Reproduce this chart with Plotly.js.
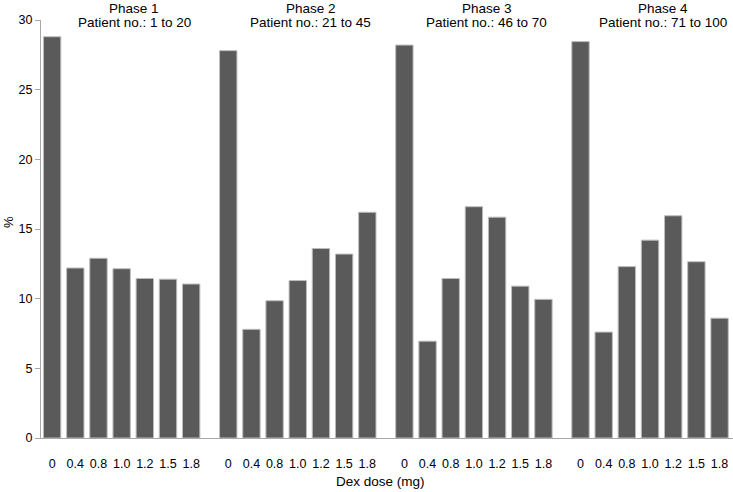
<!DOCTYPE html>
<html>
<head>
<meta charset="utf-8">
<script src="https://cdn.plot.ly/plotly-3.0.1.min.js"></script>
<style>html,body{margin:0;padding:0;background:#fff;}#chart{width:733px;height:492px;}</style>
</head>
<body>
<div id="chart"></div>
<script>
// Data
const doses = ["0", "0.4", "0.8", "1.0", "1.2", "1.5", "1.8"];
const phaseNames = ["Phase 1", "Phase 2", "Phase 3", "Phase 4"];
const patientRanges = ["Patient no.: 1 to 20", "Patient no.: 21 to 45", "Patient no.: 46 to 70", "Patient no.: 71 to 100"];
const phase1 = [28.8, 12.2, 12.9, 12.15, 11.45, 11.4, 11.05];
const phase2 = [27.8, 7.8, 9.85, 11.3, 13.6, 13.2, 16.2];
const phase3 = [28.2, 6.95, 11.45, 16.6, 15.85, 10.9, 9.95];
const phase4 = [28.45, 7.6, 12.3, 14.2, 15.95, 12.65, 8.6];
const phases = [phase1, phase2, phase3, phase4];

// Layout helpers (positions)
const PHASE_STEP = 7.6;
const xs = [], ys = [], tickvals = [], ticktext = [];
phases.forEach((vals, p) => {
  vals.forEach((v, i) => {
    const x = p * PHASE_STEP + i;
    xs.push(x); ys.push(v);
    tickvals.push(x); ticktext.push(doses[i]);
  });
});

const FONT = "Liberation Sans, Arial, sans-serif";
const plotTop = 20, plotBottom = 438;
const pyPaper = (pix) => (plotBottom - pix) / (plotBottom - plotTop);

const annotations = [];
phases.forEach((vals, p) => {
  const cx = p * PHASE_STEP + 3.55;
  annotations.push({x: cx, xref: 'x', y: pyPaper(8), yref: 'paper', text: phaseNames[p],
    showarrow: false, xanchor: 'center', yanchor: 'middle', font: {family: FONT, size: 13.5, color: '#000'}});
  annotations.push({x: cx, xref: 'x', y: pyPaper(22), yref: 'paper', text: patientRanges[p],
    showarrow: false, xanchor: 'center', yanchor: 'middle', font: {family: FONT, size: 13.5, color: '#000'}});
});
annotations.push({x: 0.49, xref: 'paper', y: pyPaper(481), yref: 'paper', text: 'Dex dose (mg)',
  showarrow: false, xanchor: 'center', yanchor: 'middle', font: {family: FONT, size: 13.5, color: '#000'}});
annotations.push({x: -33/692, xref: 'paper', y: pyPaper(222), yref: 'paper', text: '%', textangle: -90,
  showarrow: false, xanchor: 'center', yanchor: 'middle', font: {family: FONT, size: 13, color: '#000'}});

const trace = {
  type: 'bar', x: xs, y: ys, width: 0.75,
  marker: {color: '#5a5a5a', line: {color: '#bdbdbd', width: 1}},
  hoverinfo: 'skip'
};

const layout = {
  width: 733, height: 492,
  margin: {l: 41, r: 0, t: plotTop, b: 492 - plotBottom, pad: 0},
  paper_bgcolor: '#fff', plot_bgcolor: '#fff',
  showlegend: false,
  font: {family: FONT, size: 12, color: '#000'},
  xaxis: {
    range: [-0.48, 3 * PHASE_STEP + 6 + 0.58],
    tickmode: 'array', tickvals: tickvals, ticktext: ticktext,
    ticks: 'outside', ticklen: 14, tickcolor: 'rgba(0,0,0,0)',
    showgrid: false, zeroline: false,
    showline: true, linecolor: '#a8a8a8', linewidth: 1,
    tickfont: {family: FONT, size: 12.5, color: '#000'}
  },
  yaxis: {
    range: [0, 30], tickvals: [0, 5, 10, 15, 20, 25, 30],
    ticks: 'outside', ticklen: 5, tickcolor: '#a8a8a8', tickwidth: 1,
    showgrid: false, zeroline: false,
    showline: true, linecolor: '#a8a8a8', linewidth: 1,
    tickfont: {family: FONT, size: 12.5, color: '#000'}
  },
  annotations: annotations
};

Plotly.newPlot('chart', [trace], layout, {displayModeBar: false, staticPlot: true});
</script>
</body>
</html>
